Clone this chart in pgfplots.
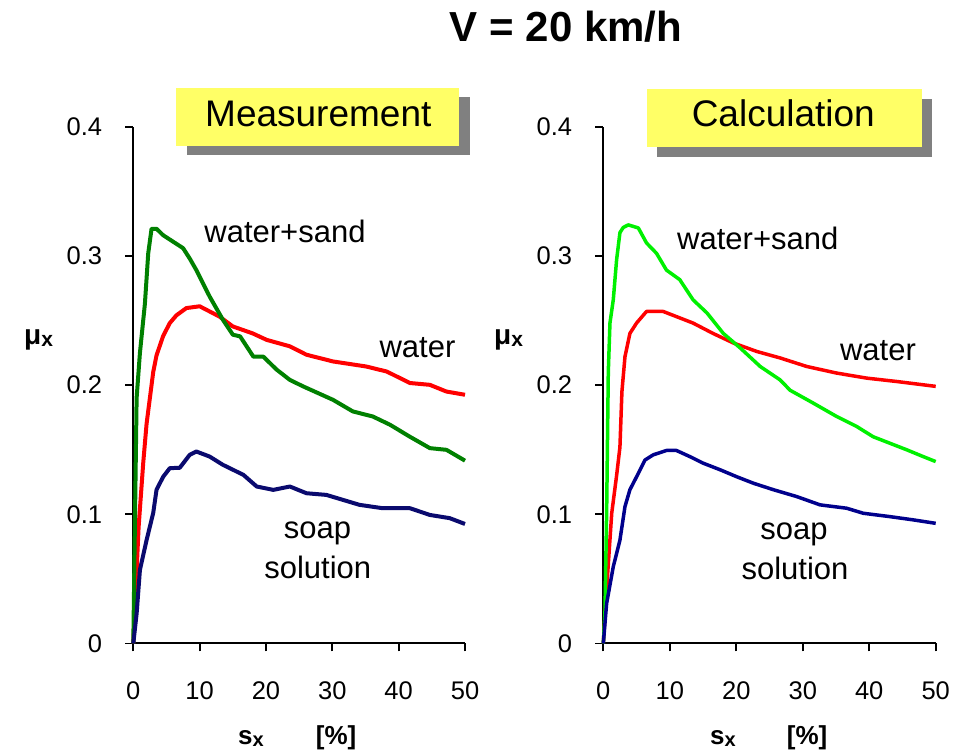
\documentclass[border=0pt]{standalone}
\usepackage{pgfplots}
\pgfplotsset{compat=1.18}
\usepackage{fontspec}
\setmainfont{Liberation Sans}
\definecolor{mgreen}{RGB}{0,128,0}
\definecolor{mred}{RGB}{255,0,0}
\definecolor{mblue}{RGB}{10,10,110}
\definecolor{cgreen}{RGB}{0,240,0}
\definecolor{cred}{RGB}{255,0,0}
\definecolor{cblue}{RGB}{0,0,140}
\definecolor{yel}{RGB}{255,255,102}
\definecolor{shad}{RGB}{128,128,128}
\pgfplotsset{myax/.style={
  scale only axis, height=516.8bp,
  xmin=0,xmax=50,ymin=0,ymax=0.4,
  axis x line*=bottom, axis y line*=left,
  axis line style={line width=2bp, black},
  tick align=outside, major tick length=8bp,
  tick style={line width=1.8bp, black},
  xtick={0,10,20,30,40,50}, ytick={0,0.1,0.2,0.3,0.4},
  xticklabels={0,10,20,30,40,50}, yticklabels={0,0.1,0.2,0.3,0.4},
  ticklabel style={font=\fontsize{25.5bp}{30bp}\selectfont},
  xticklabel style={anchor=center, inner sep=0pt, yshift=-39bp},
  yticklabel style={anchor=east, inner sep=0pt, xshift=-23bp},
  clip=false,
}}
\begin{document}
\begin{tikzpicture}[x=1bp,y=1bp]
\useasboundingbox (0,0) rectangle (963,755);
% ---------- Measurement ----------
\begin{axis}[myax, width=331.7bp, at={(133.3bp,111.5bp)}, anchor=south west]
\addplot[mred, line width=4bp, line join=round] coordinates {
(0,0) (0.8,0.09) (1.5,0.14) (2.0,0.17) (2.5,0.19) (3.0,0.21) (3.5,0.223) (4.5,0.238) (5.5,0.248) (6.5,0.254) (8.0,0.2596) (10.0,0.261) (11.5,0.257) (13.0,0.253) (15.0,0.2454) (18.0,0.240) (20.1,0.235) (23.6,0.230) (26.1,0.2235) (30.1,0.2183) (35.1,0.2144) (38.2,0.2105) (41.7,0.2016) (44.7,0.2002) (47.2,0.195) (50,0.1925)};
\addplot[mgreen, line width=4bp, line join=round] coordinates {
(0,0) (0.5,0.19) (1.0,0.225) (1.75,0.263) (2.25,0.302) (2.75,0.321) (3.5,0.321) (4.5,0.316) (6.0,0.311) (7.5,0.306) (8.5,0.298) (9.5,0.289) (11.5,0.2686) (13.5,0.2506) (15.0,0.239) (16.1,0.2377) (18.1,0.222) (19.6,0.222) (21.6,0.212) (23.6,0.204) (25.6,0.199) (30.1,0.1886) (33.1,0.1796) (36.1,0.1757) (38.7,0.1693) (41.7,0.160) (44.7,0.1512) (47.2,0.1499) (50,0.1415)};
\addplot[mblue, line width=4bp, line join=round] coordinates {
(0,0) (0.5,0.023) (1.0,0.057) (2.0,0.080) (3.0,0.101) (3.5,0.119) (4.5,0.129) (5.5,0.1357) (7.0,0.136) (8.5,0.146) (9.5,0.1486) (11.5,0.1447) (13.5,0.1383) (16.6,0.1305) (18.6,0.1215) (21.1,0.1189) (23.6,0.1215) (26.1,0.1163) (29.1,0.115) (34.1,0.1073) (37.6,0.1047) (41.7,0.1047) (44.7,0.0995) (47.7,0.097) (50,0.0925)};
\end{axis}
% ---------- Calculation ----------
\begin{axis}[myax, width=332.4bp, at={(603.3bp,111.5bp)}, anchor=south west]
\addplot[cred, line width=3.5bp, line join=round] coordinates {
(0,0) (0.6,0.05) (1.27,0.101) (2.0,0.13) (2.5,0.152) (2.8,0.195) (3.26,0.222) (4.0,0.240) (5.0,0.248) (6.5,0.257) (9.0,0.257) (11.0,0.253) (13.5,0.248) (16.5,0.240) (19.6,0.2325) (23.1,0.226) (26.6,0.221) (30.6,0.2144) (35.1,0.2093) (39.6,0.2054) (44.1,0.2028) (50,0.199)};
\addplot[cgreen, line width=3.5bp, line join=round] coordinates {
(0,0) (0.25,0.024) (0.5,0.101) (0.75,0.21) (1.0,0.248) (1.5,0.266) (2.0,0.297) (2.5,0.318) (3.0,0.322) (3.76,0.324) (5.27,0.3216) (6.5,0.310) (8.0,0.302) (9.5,0.289) (11.5,0.2816) (13.5,0.266) (15.6,0.2558) (18.05,0.240) (20.6,0.2287) (23.6,0.2144) (26.6,0.204) (28.1,0.196) (31.6,0.186) (35.1,0.1757) (38.1,0.168) (40.6,0.160) (43.1,0.155) (45.6,0.150) (48.1,0.1447) (50,0.1408)};
\addplot[cblue, line width=3.5bp, line join=round] coordinates {
(0,0) (0.5,0.031) (1.5,0.0595) (2.5,0.080) (3.26,0.106) (4.0,0.119) (5.0,0.129) (6.27,0.142) (7.5,0.146) (9.5,0.1494) (11.0,0.1494) (13.0,0.1447) (15.0,0.1396) (17.6,0.1344) (20.1,0.129) (22.6,0.124) (25.6,0.119) (29.1,0.1137) (32.6,0.1073) (36.6,0.1047) (39.1,0.1008) (43.1,0.0982) (46.6,0.0957) (50,0.093)};
\end{axis}
% ---------- title ----------
\node[anchor=base, inner sep=0pt, font=\bfseries\fontsize{42bp}{50bp}\selectfont] at (566,713) {V = 20 km/h};
% ---------- boxes ----------
\fill[shad] (187,600) rectangle (470,658.3);
\fill[yel] (176,609.3) rectangle (459,667);
\node[inner sep=0pt, font=\fontsize{37bp}{44bp}\selectfont] at (318.3,640.8) {Measurement};
\fill[shad] (656.7,598.3) rectangle (931.7,656);
\fill[yel] (646.7,608.3) rectangle (921.7,665.7);
\node[inner sep=0pt, font=\fontsize{37bp}{44bp}\selectfont] at (783.3,641.7) {Calculation};
% ---------- curve labels ----------
\begin{scope}[every node/.style={anchor=base, inner sep=0pt, font=\fontsize{31bp}{36bp}\selectfont}]
\node at (285,512) {water+sand};
\node at (417.5,397) {water};
\node at (317.5,216.7) {soap};
\node at (317.8,176.7) {solution};
\node at (757.8,505.7) {water+sand};
\node at (878,394) {water};
\node at (794,215.7) {soap};
\node at (795,175.7) {solution};
\end{scope}
% ---------- axis labels ----------
\begin{scope}[every node/.style={anchor=base west, inner sep=0pt, font=\bfseries\fontsize{28bp}{32bp}\selectfont}]
\node at (24,410) {μ\raisebox{-2bp}{\fontsize{21bp}{24bp}\selectfont x}};
\node at (494,410) {μ\raisebox{-2bp}{\fontsize{21bp}{24bp}\selectfont x}};
\end{scope}
\begin{scope}[every node/.style={anchor=base west, inner sep=0pt, font=\bfseries\fontsize{26bp}{30bp}\selectfont}]
\node at (238,10) {s\raisebox{-2bp}{\fontsize{20bp}{24bp}\selectfont x}};
\node at (315.7,10) {[\%]};
\node at (710,10) {s\raisebox{-2bp}{\fontsize{20bp}{24bp}\selectfont x}};
\node at (786.7,10) {[\%]};
\end{scope}
\end{tikzpicture}
\end{document}
